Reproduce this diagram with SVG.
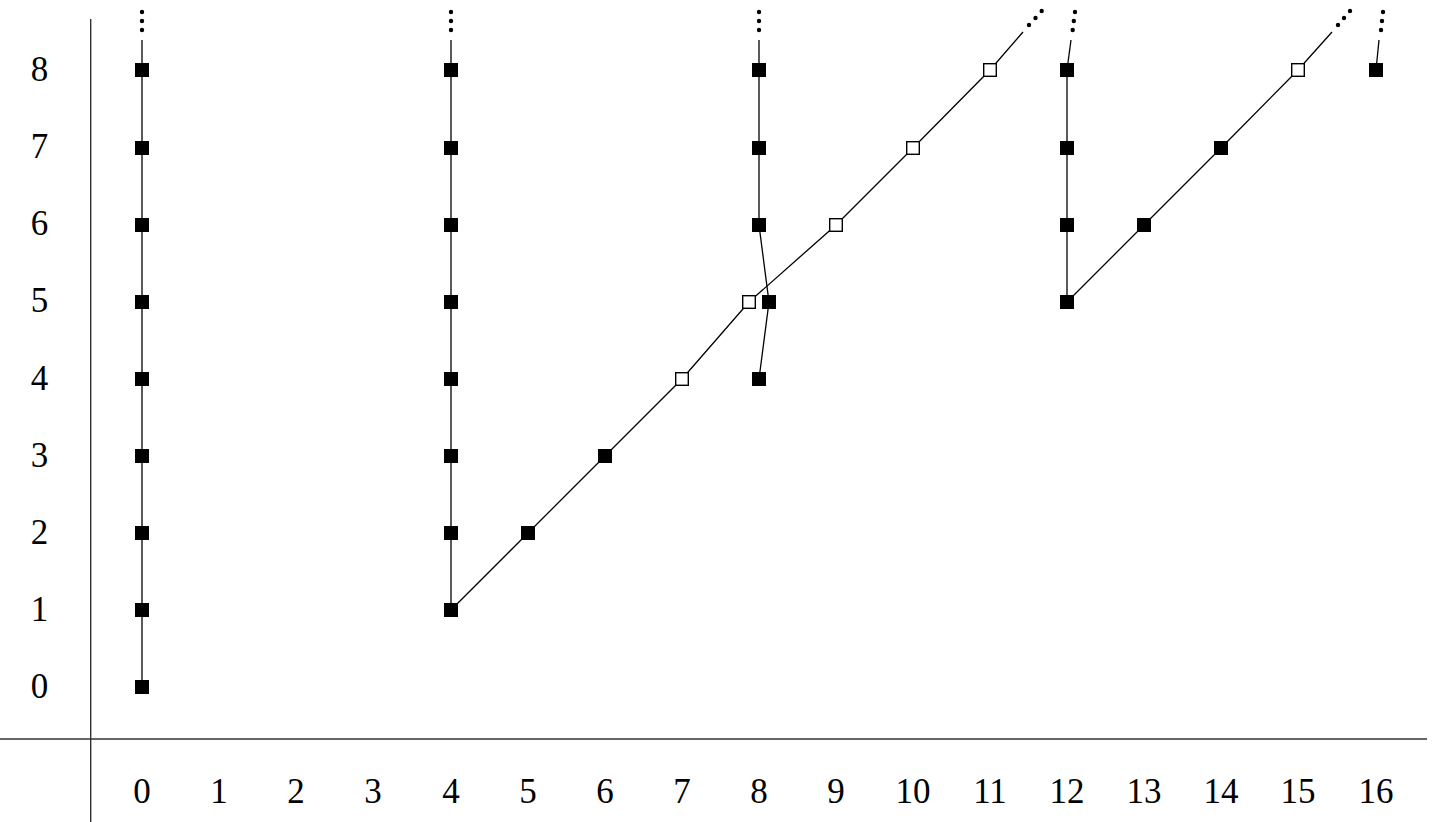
<svg xmlns="http://www.w3.org/2000/svg" width="1434" height="822" viewBox="0 0 1434 822">
<style>
.ax{stroke:#333;stroke-width:1.4;fill:none}
.ln{stroke:#000;stroke-width:1.3;fill:none}
.f{fill:#000}
.o{fill:#fff;stroke:#000;stroke-width:1.4}
.d{fill:#000}
text{font-family:"Liberation Serif","DejaVu Serif",serif;font-size:35px;fill:#000;text-anchor:middle}
</style>
<defs>
<rect id="fs" x="-7" y="-7" width="14" height="14"/>
<rect id="os" x="-6.3" y="-6.3" width="12.6" height="12.6"/>
<g id="vd"><circle cx="0" cy="0" r="2.2"/><circle cx="0" cy="9" r="2.2"/><circle cx="0" cy="18" r="2.2"/></g>
</defs>
<g id="axes">
<line class="ax" x1="0" y1="739" x2="1427" y2="739"/>
<line class="ax" x1="90.7" y1="19" x2="90.7" y2="822"/>
</g>
<g id="labels">
<text x="39.5" y="81">8</text>
<text x="39.5" y="158">7</text>
<text x="39.5" y="235">6</text>
<text x="39.5" y="312">5</text>
<text x="39.5" y="390">4</text>
<text x="39.5" y="467">3</text>
<text x="39.5" y="544">2</text>
<text x="39.5" y="621">1</text>
<text x="39.5" y="698">0</text>
<text x="142" y="803">0</text>
<text x="219" y="803">1</text>
<text x="296" y="803">2</text>
<text x="373" y="803">3</text>
<text x="451" y="803">4</text>
<text x="528" y="803">5</text>
<text x="605" y="803">6</text>
<text x="682" y="803">7</text>
<text x="759" y="803">8</text>
<text x="836" y="803">9</text>
<text x="913" y="803">10</text>
<text x="990" y="803">11</text>
<text x="1067" y="803">12</text>
<text x="1144" y="803">13</text>
<text x="1221" y="803">14</text>
<text x="1298" y="803">15</text>
<text x="1376" y="803">16</text>
</g>
<g id="connectors">
<line class="ln" x1="142" y1="687" x2="142" y2="40"/>
<line class="ln" x1="451" y1="610" x2="451" y2="40"/>
<line class="ln" x1="759" y1="225" x2="759" y2="40"/>
<polyline class="ln" points="759,225 769,302 759,379"/>
<polyline class="ln" points="451,610 528,533 605,456 682,379 749,302 836,225 913,148 990,70 1023,32"/>
<line class="ln" x1="1067" y1="302" x2="1067" y2="70"/>
<line class="ln" x1="1067" y1="70" x2="1071" y2="40"/>
<polyline class="ln" points="1067,302 1144,225 1221,148 1298,70 1332,32"/>
<line class="ln" x1="1376" y1="70" x2="1379" y2="40"/>
</g>
<g id="dots" class="d">
<use href="#vd" x="142" y="12"/>
<use href="#vd" x="451" y="12"/>
<use href="#vd" x="759" y="12"/>
<circle cx="1075" cy="12" r="2.2"/><circle cx="1073.8" cy="21" r="2.2"/><circle cx="1072.7" cy="30" r="2.2"/>
<circle cx="1383" cy="12" r="2.2"/><circle cx="1382" cy="21" r="2.2"/><circle cx="1381" cy="30" r="2.2"/>
<circle cx="1029" cy="25" r="2.2"/><circle cx="1035.5" cy="18" r="2.2"/><circle cx="1041.7" cy="11" r="2.2"/>
<circle cx="1338" cy="25" r="2.2"/><circle cx="1344" cy="18" r="2.2"/><circle cx="1350" cy="11" r="2.2"/>
</g>
<g id="col0" class="f">
<use href="#fs" x="142" y="687"/><use href="#fs" x="142" y="610"/><use href="#fs" x="142" y="533"/>
<use href="#fs" x="142" y="456"/><use href="#fs" x="142" y="379"/><use href="#fs" x="142" y="302"/>
<use href="#fs" x="142" y="225"/><use href="#fs" x="142" y="148"/><use href="#fs" x="142" y="70"/>
</g>
<g id="col4" class="f">
<use href="#fs" x="451" y="610"/><use href="#fs" x="451" y="533"/>
<use href="#fs" x="451" y="456"/><use href="#fs" x="451" y="379"/><use href="#fs" x="451" y="302"/>
<use href="#fs" x="451" y="225"/><use href="#fs" x="451" y="148"/><use href="#fs" x="451" y="70"/>
</g>
<g id="col8" class="f">
<use href="#fs" x="759" y="379"/><use href="#fs" x="769" y="302"/>
<use href="#fs" x="759" y="225"/><use href="#fs" x="759" y="148"/><use href="#fs" x="759" y="70"/>
</g>
<g id="col12" class="f">
<use href="#fs" x="1067" y="302"/><use href="#fs" x="1067" y="225"/><use href="#fs" x="1067" y="148"/><use href="#fs" x="1067" y="70"/>
</g>
<g id="diag1">
<use class="f" href="#fs" x="528" y="533"/>
<use class="f" href="#fs" x="605" y="456"/>
<use class="o" href="#os" x="682" y="379"/>
<use class="o" href="#os" x="749" y="302"/>
<use class="o" href="#os" x="836" y="225"/>
<use class="o" href="#os" x="913" y="148"/>
<use class="o" href="#os" x="990" y="70"/>
</g>
<g id="diag2">
<use class="f" href="#fs" x="1144" y="225"/>
<use class="f" href="#fs" x="1221" y="148"/>
<use class="o" href="#os" x="1298" y="70"/>
</g>
<g id="col16" class="f">
<use href="#fs" x="1376" y="70"/>
</g>
</svg>
